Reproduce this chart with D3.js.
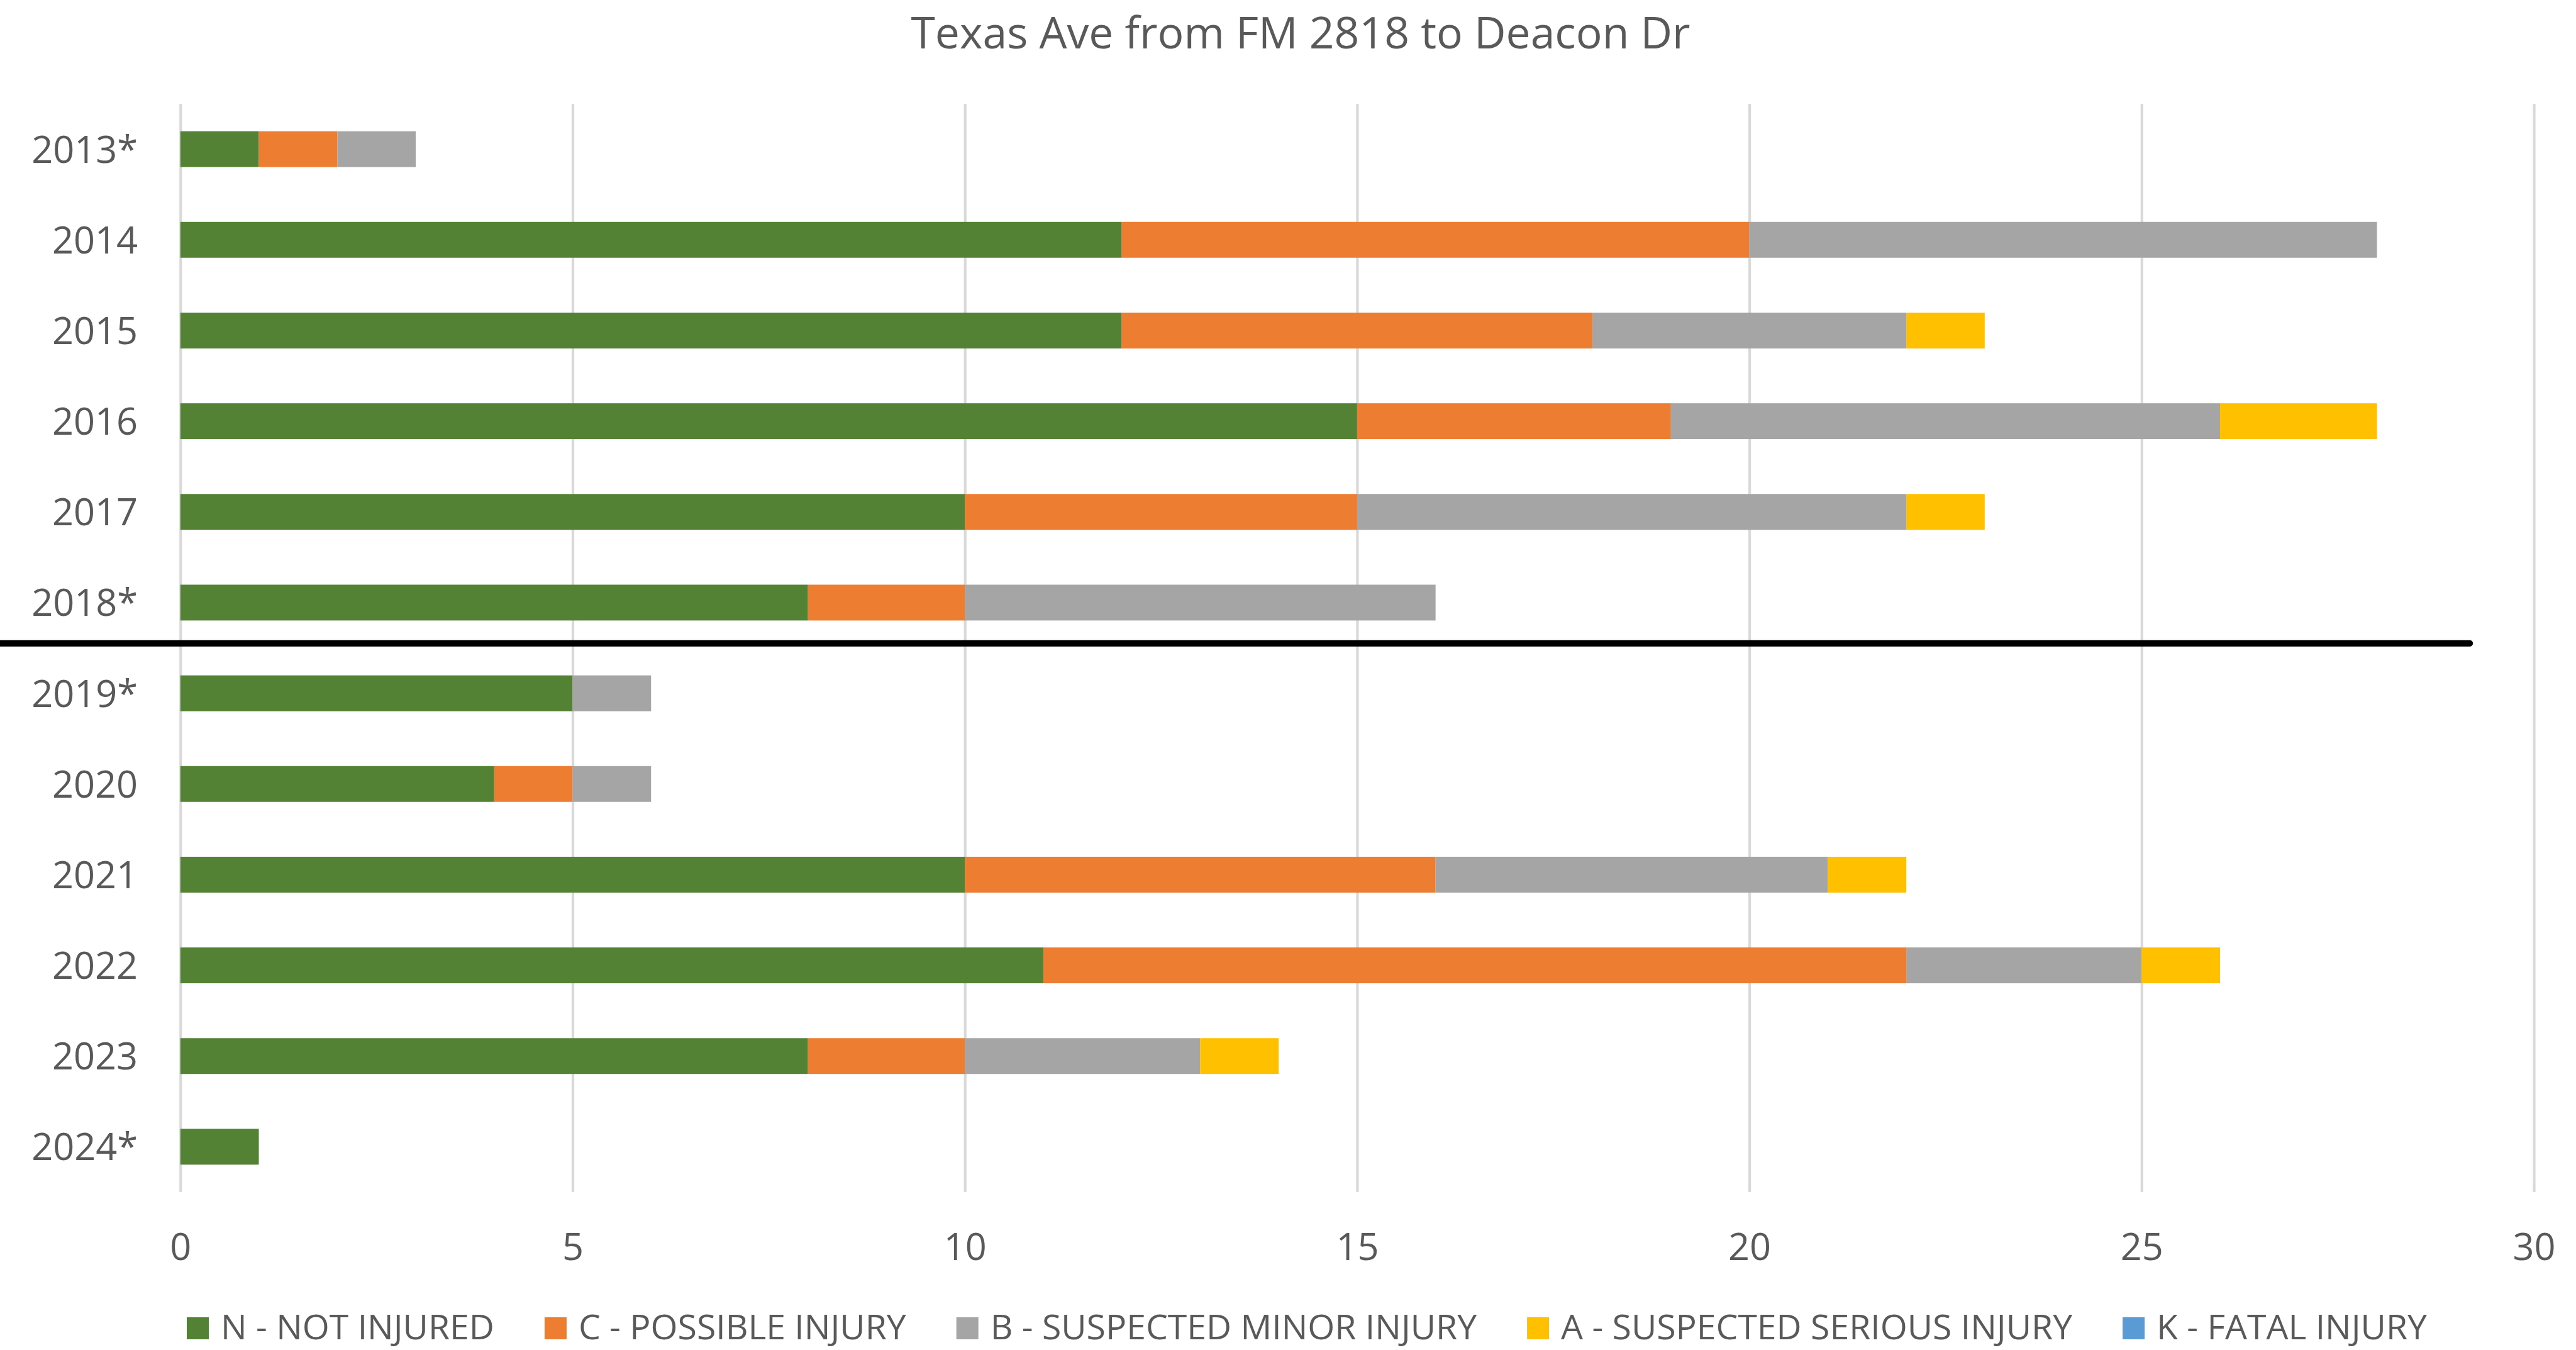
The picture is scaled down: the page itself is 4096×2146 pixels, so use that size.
<!DOCTYPE html>
<html>
<head>
<meta charset="utf-8">
<script src="https://cdn.jsdelivr.net/npm/d3@7"></script>
<style>
  html, body { margin: 0; padding: 0; background: #ffffff; }
  svg { display: block; }
  text { font-family: "Open Sans", "Noto Sans", sans-serif; fill: #595959; }
</style>
</head>
<body>
<svg id="chart" width="4096" height="2146"></svg>
<script>
// ---------------- data ----------------
const title = "Texas Ave from FM 2818 to Deacon Dr";
const categories = ["2013*", "2014", "2015", "2016", "2017", "2018*", "2019*", "2020", "2021", "2022", "2023", "2024*"];
const seriesNames = ["N - NOT INJURED", "C - POSSIBLE INJURY", "B - SUSPECTED MINOR INJURY", "A - SUSPECTED SERIOUS INJURY", "K - FATAL INJURY"];
const notInjured      = [1, 12, 12, 15, 10, 8, 5, 4, 10, 11, 8, 1];
const possibleInjury  = [1, 8, 6, 4, 5, 2, 0, 1, 6, 11, 2, 0];
const minorInjury     = [1, 8, 4, 7, 7, 6, 1, 1, 5, 3, 3, 0];
const seriousInjury   = [0, 0, 1, 2, 1, 0, 0, 0, 1, 1, 1, 0];
const fatalInjury     = [0, 0, 0, 0, 0, 0, 0, 0, 0, 0, 0, 0];
const xTicks = [0, 5, 10, 15, 20, 25, 30];
const dividerAfter = "2018*";

// ---------------- styles / layout ----------------
const colors = ["#548235", "#ED7D31", "#A5A5A5", "#FFC000", "#5B9BD5"];
const W = 4096, H = 2146;
const plot = { left: 286.8, right: 4029, top: 165, bottom: 1895 };

const seriesValues = [notInjured, possibleInjury, minorInjury, seriousInjury, fatalInjury];
const table = categories.map((c, i) => {
  const row = { cat: c };
  seriesNames.forEach((s, j) => row[s] = seriesValues[j][i]);
  return row;
});

const svg = d3.select("#chart");

const x = d3.scaleLinear().domain([0, 30]).range([plot.left, plot.right]);
const y = d3.scaleBand().domain(categories).range([plot.top, plot.bottom])
  .paddingInner(0.605).paddingOuter(0.3025);

// gridlines
const grid = svg.append("g").attr("transform", `translate(0,${plot.bottom})`)
  .call(d3.axisBottom(x).tickValues(xTicks).tickSize(-(plot.bottom - plot.top)).tickFormat(""));
grid.select(".domain").remove();
grid.selectAll(".tick line").attr("stroke", "#d9d9d9").attr("stroke-width", 4.2);

// stacked bars
const stack = d3.stack().keys(seriesNames);
const stacked = stack(table);
svg.append("g").selectAll("g").data(stacked).join("g")
  .attr("fill", (d, i) => colors[i])
  .selectAll("rect").data(d => d).join("rect")
  .attr("x", d => x(d[0]))
  .attr("width", d => x(d[1]) - x(d[0]))
  .attr("y", d => y(d.data.cat))
  .attr("height", y.bandwidth());

// x tick labels
const xAxis = svg.append("g").attr("transform", `translate(0,${plot.bottom})`)
  .call(d3.axisBottom(x).tickValues(xTicks).tickSize(0).tickPadding(0));
xAxis.select(".domain").remove();
xAxis.selectAll("text").attr("font-size", 59.5).attr("dy", null)
  .attr("y", 108).attr("fill", "#595959").attr("font-family", "Open Sans");

// y category labels
const yAxis = svg.append("g").attr("transform", `translate(219,0)`)
  .call(d3.axisLeft(y).tickSize(0).tickPadding(0));
yAxis.select(".domain").remove();
yAxis.selectAll("text").attr("font-size", 59.5).attr("dy", "0.36em")
  .attr("fill", "#595959").attr("font-family", "Open Sans");

// divider line between 2018* and 2019*
const idx = categories.indexOf(dividerAfter);
const divY = plot.top + y.step() * (idx + 1) - 7.4;
svg.append("line")
  .attr("x1", 0).attr("x2", 3927)
  .attr("y1", divY).attr("y2", divY)
  .attr("stroke", "#000").attr("stroke-width", 10.4).attr("stroke-linecap", "round");

// title
const t = svg.append("text").attr("x", 2068).attr("y", 77)
  .attr("text-anchor", "middle").attr("font-size", 70).text(title);
t.attr("textLength", 1239).attr("lengthAdjust", "spacingAndGlyphs");

// legend
const legend = svg.append("g");
const items = legend.selectAll("g").data(seriesNames).join("g");
items.append("rect").attr("width", 35).attr("height", 35).attr("y", 2094)
  .attr("fill", (d, i) => colors[i]);
const labels = items.append("text").attr("y", 2129).attr("font-size", 54).text(d => d);
const natural = labels.nodes().map(n => n.getComputedTextLength());
const swatchGap = 54, itemGap = 80, targetTotal = 3562;
const fixed = seriesNames.length * swatchGap + (seriesNames.length - 1) * itemGap;
const k = (targetTotal - fixed) / d3.sum(natural);
let cx = 297;
items.each(function (d, i) {
  const g = d3.select(this);
  const w = natural[i] * k;
  g.select("rect").attr("x", cx);
  g.select("text").attr("x", cx + swatchGap).attr("textLength", w).attr("lengthAdjust", "spacingAndGlyphs");
  cx += swatchGap + w + itemGap;
});
</script>
</body>
</html>
